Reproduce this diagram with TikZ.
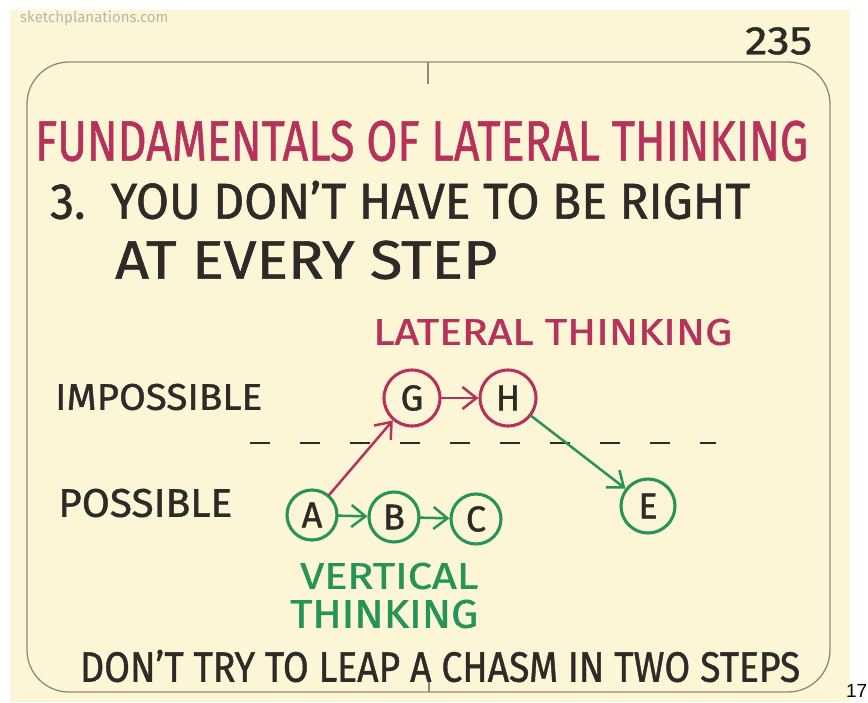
\documentclass[tikz,border=0pt]{standalone}
\usepackage{fontspec}
\usepackage{graphicx}
\setmainfont{Fira Sans}
\newfontfamily\marker{Fira Sans}[FakeBold=1.1, Ligatures=TeX]
\newfontfamily\pagefont{Liberation Sans}
\usetikzlibrary{arrows.meta}
\definecolor{paper}{RGB}{252,246,214}
\definecolor{lateral}{RGB}{182,50,90}
\definecolor{vertical}{RGB}{38,148,88}
\definecolor{ink}{RGB}{45,42,40}
\definecolor{frame}{RGB}{140,138,125}
\definecolor{siteink}{RGB}{185,182,170}
% hand lettering squeezed to a given width and cap height
\newcommand{\lettering}[3]{\resizebox{#1pt}{#2pt}{\marker\fontsize{40}{44}\selectfont #3}}

\begin{document}
\begin{tikzpicture}[x=1pt, y=-1pt, >={Straight Barb[length=14pt, width=22pt]},
  every node/.style={inner sep=0pt, text=ink},
  bubble/.style={draw, circle, line width=3.1pt, font=\marker\fontsize{36}{36}\selectfont},
  link/.style={->, line width=2.5pt, shorten <=-1pt}]
  \useasboundingbox (0,0) rectangle (868,702);
  \fill[white] (0,0) rectangle (868,702);
  \fill[paper] (10,10) rectangle (850,702);

  % card
  \draw[frame, line width=1.3pt, rounded corners=42pt] (27,62) rectangle (830,692);
  \draw[frame, line width=1.3pt] (428,62) -- (428,84);
  \draw[frame, line width=1.3pt] (429,677) -- (429,692);

  \node[anchor=west, text=siteink, font=\fontsize{15}{15}\selectfont] (site) at (20,18) {sketchplanations.com};
  \node[anchor=west] (number) at (745,41) {\lettering{67}{27}{235}};
  \node[anchor=west, text=lateral] (title) at (35,141) {\lettering{773}{40}{FUNDAMENTALS OF LATERAL THINKING}};
  \node[anchor=west] (rule1) at (50,200) {\lettering{700}{38}{3.\ \ YOU DON'T HAVE TO BE RIGHT}};
  \node[anchor=west] (rule2) at (115,260) {\lettering{382}{38}{AT EVERY STEP}};

  \node[anchor=west, text=lateral] (lateral) at (373,332) {\lettering{359}{26}{LATERAL THINKING}};
  \node[anchor=west] (impossible) at (55,397) {\lettering{207}{26}{IMPOSSIBLE}};
  \node[anchor=west] (possible) at (58,503) {\lettering{174}{28}{POSSIBLE}};
  \node[anchor=west, text=vertical] (vertical1) at (300,576) {\lettering{178}{26}{VERTICAL}};
  \node[anchor=west, text=vertical] (vertical2) at (290,614) {\lettering{188}{28}{THINKING}};
  \node[anchor=west] (moral) at (80,666) {\lettering{720}{32}{DON'T TRY TO LEAP A CHASM IN TWO STEPS}};
  \node[anchor=east, text=black, font=\pagefont\fontsize{19}{19}\selectfont] (page) at (867.5,691) {17};

  % boundary between possible and impossible
  \coordinate (dashL) at (250,443);
  \coordinate (dashR) at (716,443);
  \draw[ink, line width=2.2pt, dash pattern=on 20pt off 30pt] (dashL) -- (dashR);

  % steps
  \node[bubble, draw=lateral, minimum size=56pt] (G) at (412,398) {G};
  \node[bubble, draw=lateral, minimum size=56pt] (H) at (508,398) {H};
  \node[bubble, draw=vertical, minimum size=50pt] (A) at (312,515) {A};
  \node[bubble, draw=vertical, minimum size=50pt] (B) at (394,517) {B};
  \node[bubble, draw=vertical, minimum size=50pt] (C) at (476,519) {C};
  \node[bubble, draw=vertical, minimum size=54pt] (E) at (648,506) {E};

  \draw[link, lateral] (A) -- (G);
  \draw[link, lateral] (G) -- (H);
  \draw[link, vertical] (H) -- (E);
  \draw[link, vertical] (A) -- (B);
  \draw[link, vertical] (B) -- (C);
\end{tikzpicture}
\end{document}
